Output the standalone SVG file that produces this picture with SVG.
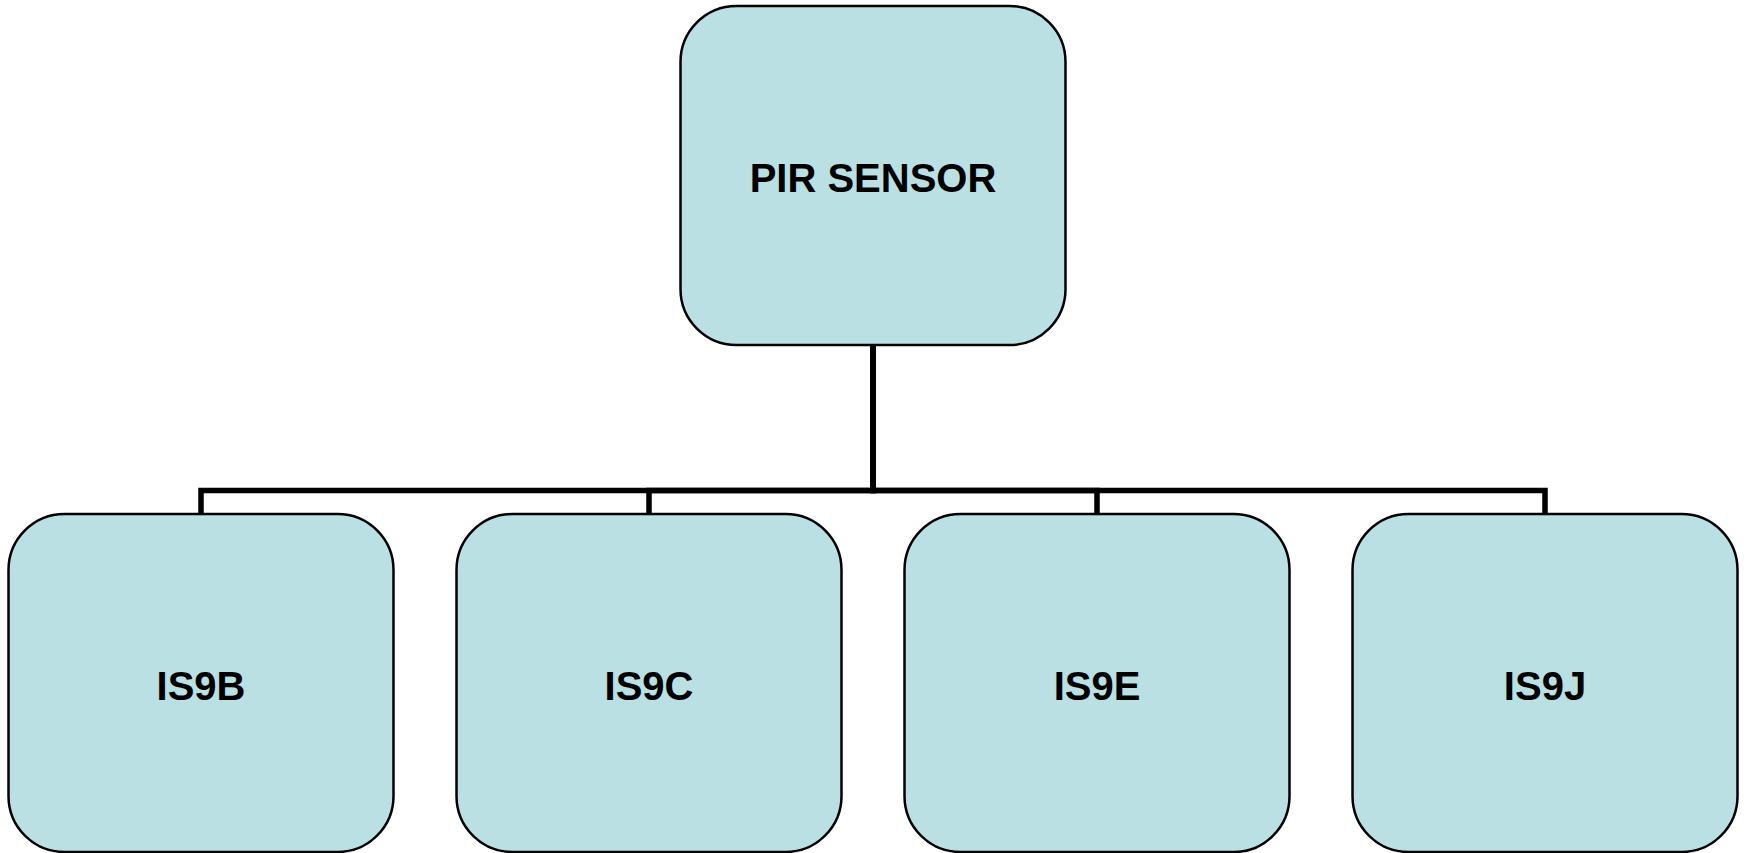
<svg xmlns="http://www.w3.org/2000/svg" width="1748" height="853" viewBox="0 0 1748 853">
<style>
.box{fill:#BAE0E3;stroke:#000;stroke-width:2.5}
.lbl{font-family:"Liberation Sans",Arial,sans-serif;font-weight:bold;font-size:40px;fill:#000;text-anchor:middle}
.conn{fill:none;stroke:#000;stroke-width:5.5;stroke-linejoin:miter}
</style>
<rect width="1748" height="853" fill="#fff"/>
<g id="connectors">
<path class="conn" d="M873,345 V490.5 H201 V514"/>
<path class="conn" d="M873,345 V490.5 H649 V514"/>
<path class="conn" d="M873,345 V490.5 H1097 V514"/>
<path class="conn" d="M873,345 V490.5 H1545 V514"/>
</g>
<g id="pir-sensor">
<rect class="box" x="680.5" y="6" width="385" height="339" rx="56" ry="56"/>
<text class="lbl" x="873" y="191.5">PIR SENSOR</text>
</g>
<g id="is9b">
<rect class="box" x="8.5" y="514" width="385" height="338" rx="56" ry="56"/>
<text class="lbl" x="201" y="700">IS9B</text>
</g>
<g id="is9c">
<rect class="box" x="456.5" y="514" width="385" height="338" rx="56" ry="56"/>
<text class="lbl" x="649" y="700">IS9C</text>
</g>
<g id="is9e">
<rect class="box" x="904.5" y="514" width="385" height="338" rx="56" ry="56"/>
<text class="lbl" x="1097" y="700">IS9E</text>
</g>
<g id="is9j">
<rect class="box" x="1352.5" y="514" width="385" height="338" rx="56" ry="56"/>
<text class="lbl" x="1545" y="700">IS9J</text>
</g>
</svg>
